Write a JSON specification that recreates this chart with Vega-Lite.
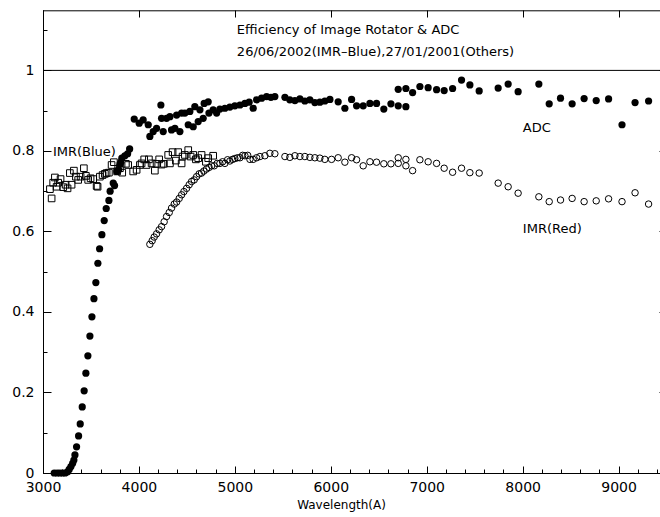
{
  "$schema": "https://vega.github.io/schema/vega-lite/v6.json",
  "autosize": "none",
  "width": 617,
  "height": 463,
  "padding": {"left": 43, "top": 10, "right": 0, "bottom": 44},
  "background": "white",
  "config": {"view": {"stroke": null}, "font": "DejaVu Sans",
    "axis": {"domainColor": "black", "tickColor": "black", "title": null, "labelColor": "black", "domainWidth": 1, "tickWidth": 1}},
  "datasets": {
    "adc": [
      {"w":3117,"e":0},{"w":3148,"e":0},{"w":3176,"e":0},{"w":3204,"e":0},{"w":3231,"e":0},
      {"w":3256,"e":0.003},{"w":3273,"e":0.009},{"w":3291,"e":0.016},{"w":3309,"e":0.024},{"w":3322,"e":0.032},
      {"w":3333,"e":0.045},{"w":3350,"e":0.065},{"w":3371,"e":0.092},{"w":3388,"e":0.122},{"w":3409,"e":0.164},
      {"w":3429,"e":0.204},{"w":3447,"e":0.248},{"w":3468,"e":0.291},{"w":3489,"e":0.340},{"w":3510,"e":0.388},
      {"w":3531,"e":0.433},{"w":3551,"e":0.473},{"w":3572,"e":0.521},{"w":3590,"e":0.557},{"w":3614,"e":0.592},
      {"w":3638,"e":0.627},{"w":3659,"e":0.657},{"w":3687,"e":0.677},{"w":3700,"e":0.700},{"w":3732,"e":0.720},
      {"w":3746,"e":0.714},{"w":3770,"e":0.749},{"w":3788,"e":0.753},{"w":3802,"e":0.767},{"w":3812,"e":0.772},
      {"w":3822,"e":0.782},{"w":3853,"e":0.788},{"w":3882,"e":0.793},{"w":3903,"e":0.805},
      {"w":3951,"e":0.879},{"w":4003,"e":0.869},{"w":4044,"e":0.877},{"w":4097,"e":0.865},{"w":4114,"e":0.836},
      {"w":4149,"e":0.848},{"w":4184,"e":0.856},{"w":4229,"e":0.914},{"w":4236,"e":0.881},{"w":4253,"e":0.848},
      {"w":4288,"e":0.881},{"w":4323,"e":0.885},{"w":4340,"e":0.852},{"w":4375,"e":0.856},{"w":4393,"e":0.889},
      {"w":4427,"e":0.848},{"w":4445,"e":0.894},{"w":4479,"e":0.894},{"w":4514,"e":0.865},{"w":4531,"e":0.898},
      {"w":4566,"e":0.860},{"w":4583,"e":0.910},{"w":4618,"e":0.873},{"w":4636,"e":0.902},{"w":4670,"e":0.881},
      {"w":4680,"e":0.918},{"w":4722,"e":0.922},{"w":4730,"e":0.894},{"w":4774,"e":0.902},{"w":4810,"e":0.894},
      {"w":4844,"e":0.904},{"w":4896,"e":0.906},{"w":4948,"e":0.909},{"w":5000,"e":0.912},{"w":5053,"e":0.914},
      {"w":5105,"e":0.918},{"w":5149,"e":0.921},{"w":5191,"e":0.906},{"w":5227,"e":0.927},{"w":5279,"e":0.931},
      {"w":5331,"e":0.935},{"w":5376,"e":0.933},{"w":5417,"e":0.935},{"w":5522,"e":0.933},{"w":5573,"e":0.927},
      {"w":5626,"e":0.925},{"w":5678,"e":0.929},{"w":5730,"e":0.924},{"w":5782,"e":0.927},{"w":5834,"e":0.920},
      {"w":5886,"e":0.921},{"w":5938,"e":0.924},{"w":5991,"e":0.928},{"w":6077,"e":0.922},{"w":6147,"e":0.906},
      {"w":6217,"e":0.928},{"w":6269,"e":0.912},{"w":6338,"e":0.912},{"w":6408,"e":0.918},{"w":6477,"e":0.918},
      {"w":6553,"e":0.904},{"w":6627,"e":0.917},{"w":6703,"e":0.912},{"w":6783,"e":0.910},{"w":6703,"e":0.953},
      {"w":6783,"e":0.955},{"w":6853,"e":0.945},{"w":6929,"e":0.960},{"w":7015,"e":0.957},{"w":7103,"e":0.952},
      {"w":7182,"e":0.950},{"w":7270,"e":0.955},{"w":7363,"e":0.976},{"w":7450,"e":0.964},{"w":7547,"e":0.949},
      {"w":7745,"e":0.956},{"w":7849,"e":0.966},{"w":7953,"e":0.947},{"w":8169,"e":0.966},{"w":8277,"e":0.917},
      {"w":8395,"e":0.931},{"w":8516,"e":0.917},{"w":8641,"e":0.930},{"w":8767,"e":0.925},{"w":8896,"e":0.929},
      {"w":9036,"e":0.865},{"w":9172,"e":0.920},{"w":9313,"e":0.924}
    ],
    "blue": [
      {"w":3072,"e":0.705},{"w":3090,"e":0.682},{"w":3106,"e":0.721},{"w":3124,"e":0.734},{"w":3142,"e":0.711},
      {"w":3158,"e":0.721},{"w":3183,"e":0.730},{"w":3211,"e":0.710},{"w":3236,"e":0.716},{"w":3256,"e":0.707},
      {"w":3280,"e":0.745},{"w":3298,"e":0.716},{"w":3322,"e":0.751},{"w":3343,"e":0.736},{"w":3367,"e":0.728},
      {"w":3392,"e":0.736},{"w":3426,"e":0.757},{"w":3447,"e":0.738},{"w":3471,"e":0.728},{"w":3496,"e":0.732},
      {"w":3523,"e":0.730},{"w":3559,"e":0.713},{"w":3569,"e":0.711},{"w":3593,"e":0.736},{"w":3621,"e":0.740},
      {"w":3645,"e":0.743},{"w":3663,"e":0.745},{"w":3687,"e":0.746},{"w":3715,"e":0.765},{"w":3739,"e":0.772},
      {"w":3773,"e":0.749},{"w":3802,"e":0.757},{"w":3826,"e":0.746},{"w":3864,"e":0.768},{"w":3888,"e":0.765},
      {"w":3940,"e":0.749},{"w":3976,"e":0.753},{"w":4010,"e":0.765},{"w":4028,"e":0.769},{"w":4055,"e":0.779},
      {"w":4080,"e":0.765},{"w":4104,"e":0.779},{"w":4132,"e":0.769},{"w":4166,"e":0.751},{"w":4184,"e":0.768},
      {"w":4211,"e":0.779},{"w":4236,"e":0.766},{"w":4260,"e":0.768},{"w":4305,"e":0.790},{"w":4323,"e":0.769},
      {"w":4351,"e":0.797},{"w":4385,"e":0.776},{"w":4409,"e":0.797},{"w":4445,"e":0.769},{"w":4455,"e":0.786},
      {"w":4479,"e":0.790},{"w":4514,"e":0.802},{"w":4539,"e":0.786},{"w":4566,"e":0.790},{"w":4594,"e":0.779},
      {"w":4618,"e":0.782},{"w":4653,"e":0.790},{"w":4698,"e":0.773},{"w":4722,"e":0.782},{"w":4774,"e":0.788}
    ],
    "red": [
      {"w":4114,"e":0.568},{"w":4138,"e":0.577},{"w":4159,"e":0.586},{"w":4184,"e":0.594},{"w":4211,"e":0.604},
      {"w":4236,"e":0.612},{"w":4263,"e":0.624},{"w":4288,"e":0.637},{"w":4316,"e":0.647},{"w":4340,"e":0.658},
      {"w":4368,"e":0.668},{"w":4393,"e":0.673},{"w":4420,"e":0.682},{"w":4445,"e":0.691},{"w":4469,"e":0.699},
      {"w":4497,"e":0.707},{"w":4524,"e":0.716},{"w":4549,"e":0.724},{"w":4576,"e":0.728},{"w":4601,"e":0.736},
      {"w":4628,"e":0.743},{"w":4653,"e":0.745},{"w":4677,"e":0.750},{"w":4705,"e":0.755},{"w":4732,"e":0.759},
      {"w":4758,"e":0.763},{"w":4785,"e":0.763},{"w":4816,"e":0.769},{"w":4844,"e":0.769},{"w":4872,"e":0.773},
      {"w":4896,"e":0.769},{"w":4924,"e":0.778},{"w":4948,"e":0.775},{"w":4976,"e":0.779},{"w":5000,"e":0.781},
      {"w":5028,"e":0.783},{"w":5053,"e":0.783},{"w":5081,"e":0.789},{"w":5105,"e":0.788},{"w":5134,"e":0.789},
      {"w":5157,"e":0.779},{"w":5191,"e":0.779},{"w":5227,"e":0.783},{"w":5261,"e":0.786},{"w":5313,"e":0.788},
      {"w":5365,"e":0.794},{"w":5417,"e":0.793},{"w":5522,"e":0.786},{"w":5573,"e":0.784},{"w":5626,"e":0.788},
      {"w":5678,"e":0.786},{"w":5730,"e":0.786},{"w":5782,"e":0.784},{"w":5834,"e":0.783},{"w":5886,"e":0.782},
      {"w":5938,"e":0.779},{"w":6008,"e":0.779},{"w":6077,"e":0.783},{"w":6147,"e":0.772},{"w":6217,"e":0.783},
      {"w":6269,"e":0.778},{"w":6338,"e":0.763},{"w":6408,"e":0.773},{"w":6477,"e":0.772},{"w":6553,"e":0.768},
      {"w":6627,"e":0.768},{"w":6703,"e":0.783},{"w":6703,"e":0.769},{"w":6783,"e":0.779},{"w":6783,"e":0.763},
      {"w":6853,"e":0.751},{"w":6929,"e":0.778},{"w":7015,"e":0.773},{"w":7103,"e":0.769},{"w":7182,"e":0.757},
      {"w":7270,"e":0.747},{"w":7363,"e":0.757},{"w":7450,"e":0.746},{"w":7547,"e":0.745},{"w":7745,"e":0.720},
      {"w":7849,"e":0.711},{"w":7953,"e":0.695},{"w":8169,"e":0.686},{"w":8277,"e":0.674},{"w":8395,"e":0.678},
      {"w":8516,"e":0.682},{"w":8641,"e":0.674},{"w":8767,"e":0.676},{"w":8896,"e":0.681},{"w":9036,"e":0.674},
      {"w":9172,"e":0.696},{"w":9313,"e":0.668}
    ],
    "one": [{}]
  },
  "layer": [
    {
      "data": {"name": "adc"},
      "mark": {"type": "point", "shape": "circle", "filled": true, "color": "black", "size": 52, "opacity": 1},
      "encoding": {
        "x": {"field": "w", "type": "quantitative",
          "scale": {"domain": [3000, 9432], "nice": false, "zero": false},
          "axis": {"orient": "bottom", "tickCount": 200,
            "values": [3000,3200,3400,3600,3800,4000,4200,4400,4600,4800,5000,5200,5400,5600,5800,6000,6200,6400,6600,6800,7000,7200,7400,7600,7800,8000,8200,8400,8600,8800,9000,9200,9400],
            "labelExpr": "datum.value % 1000 == 0 ? toString(datum.value) : ''",
            "ticks": true, "tickSize": -4, "labelPadding": 11, "labelFlush": false, "labelOverlap": false, "labelBound": false,
            "labelFont": "DejaVu Sans", "labelFontSize": 14,
            "grid": true, "gridColor": "black", "gridWidth": 1, "gridDash": [7, 449],
            "gridOpacity": {"condition": {"test": "datum.value % 1000 == 0", "value": 1}, "value": 0},
            "title": "Wavelength(A)", "titleFont": "DejaVu Sans", "titleFontSize": 12, "titleFontWeight": "normal",
            "titleColor": "black", "titleAnchor": "middle", "titleX": 298, "titleY": 31, "titleBaseline": "middle"}},
        "y": {"field": "e", "type": "quantitative",
          "scale": {"domain": [0, 1.15], "nice": false, "zero": false},
          "axis": {"orient": "left", "tickCount": 200, "values": [0,0.1,0.2,0.3,0.4,0.5,0.6,0.7,0.8,0.9,1,1.1],
            "labelExpr": "datum.value <= 1.001 && round(datum.value*10) % 2 == 0 ? toString(round(datum.value*10)/10) : ''",
            "ticks": true, "tickSize": -4, "labelPadding": 13, "labelFlush": false, "labelOverlap": false, "labelBound": false,
            "labelFont": "DejaVu Sans", "labelFontSize": 14,
            "grid": true, "gridColor": "black", "gridWidth": 1, "gridDash": [8, 608],
            "gridOpacity": {"condition": {"test": "datum.value <= 1.001 && round(datum.value*10) % 2 == 0", "value": 1}, "value": 0}}}
      }
    },
    {
      "data": {"name": "blue"},
      "mark": {"type": "point", "shape": "square", "filled": false, "color": "black", "strokeWidth": 1, "size": 44, "opacity": 1},
      "encoding": {
        "x": {"field": "w", "type": "quantitative", "scale": {"domain": [3000, 9432], "nice": false, "zero": false}},
        "y": {"field": "e", "type": "quantitative", "scale": {"domain": [0, 1.15], "nice": false, "zero": false}}
      }
    },
    {
      "data": {"name": "red"},
      "mark": {"type": "point", "shape": "circle", "filled": false, "color": "black", "strokeWidth": 1, "size": 42, "opacity": 1},
      "encoding": {
        "x": {"field": "w", "type": "quantitative", "scale": {"domain": [3000, 9432], "nice": false, "zero": false}},
        "y": {"field": "e", "type": "quantitative", "scale": {"domain": [0, 1.15], "nice": false, "zero": false}}
      }
    },
    {
      "data": {"name": "one"},
      "mark": {"type": "rule", "color": "black", "strokeWidth": 1},
      "encoding": {"y": {"datum": 1, "type": "quantitative"}}
    },
    {
      "data": {"name": "one"},
      "mark": {"type": "rule", "color": "black", "strokeWidth": 1},
      "encoding": {"y": {"datum": 1.148, "type": "quantitative"}}
    },
    {
      "data": {"name": "one"},
      "mark": {"type": "text", "align": "left", "baseline": "middle", "font": "DejaVu Sans", "fontSize": 13, "color": "black"},
      "encoding": {"x": {"datum": 5021, "type": "quantitative"}, "y": {"datum": 1.101, "type": "quantitative"}, "text": {"value": "Efficiency of Image Rotator & ADC"}}
    },
    {
      "data": {"name": "one"},
      "mark": {"type": "text", "align": "left", "baseline": "middle", "font": "DejaVu Sans", "fontSize": 13, "color": "black"},
      "encoding": {"x": {"datum": 5021, "type": "quantitative"}, "y": {"datum": 1.046, "type": "quantitative"}, "text": {"value": "26/06/2002(IMR–Blue),27/01/2001(Others)"}}
    },
    {
      "data": {"name": "one"},
      "mark": {"type": "text", "align": "left", "baseline": "middle", "font": "DejaVu Sans", "fontSize": 13, "color": "black"},
      "encoding": {"x": {"datum": 3103, "type": "quantitative"}, "y": {"datum": 0.798, "type": "quantitative"}, "text": {"value": "IMR(Blue)"}}
    },
    {
      "data": {"name": "one"},
      "mark": {"type": "text", "align": "left", "baseline": "middle", "font": "DejaVu Sans", "fontSize": 13, "color": "black"},
      "encoding": {"x": {"datum": 8002, "type": "quantitative"}, "y": {"datum": 0.857, "type": "quantitative"}, "text": {"value": "ADC"}}
    },
    {
      "data": {"name": "one"},
      "mark": {"type": "text", "align": "left", "baseline": "middle", "font": "DejaVu Sans", "fontSize": 13, "color": "black"},
      "encoding": {"x": {"datum": 8002, "type": "quantitative"}, "y": {"datum": 0.606, "type": "quantitative"}, "text": {"value": "IMR(Red)"}}
    }
  ]
}
